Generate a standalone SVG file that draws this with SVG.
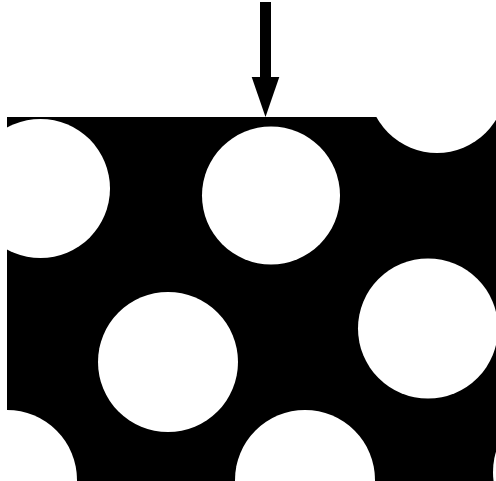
<svg xmlns="http://www.w3.org/2000/svg" width="496" height="481" viewBox="0 0 496 481">
  <style>
    .hole { fill: #ffffff; }
    .plate { fill: #000000; }
    .arrow { fill: #000000; }
  </style>
  <defs>
    <clipPath id="plateClip">
      <rect x="7" y="117" width="489" height="364"/>
    </clipPath>
  </defs>
  <rect width="496" height="481" fill="#ffffff"/>
  <g id="plate">
    <rect class="plate" x="7" y="117" width="489" height="364"/>
    <g clip-path="url(#plateClip)">
      <circle class="hole" cx="40.5" cy="188.5" r="69.5"/>
      <circle class="hole" cx="271" cy="195.5" r="69"/>
      <circle class="hole" cx="437" cy="84" r="69"/>
      <circle class="hole" cx="168" cy="362" r="70"/>
      <circle class="hole" cx="428" cy="328.5" r="70"/>
      <circle class="hole" cx="305" cy="480" r="70"/>
      <circle class="hole" cx="7" cy="480" r="70"/>
      <circle class="hole" cx="563" cy="472" r="70"/>
    </g>
  </g>
  <g id="connectors">
    <rect class="arrow" x="260" y="2" width="11" height="76"/>
    <polygon class="arrow" points="251.7,77 279.3,77 265.5,117"/>
  </g>
</svg>
